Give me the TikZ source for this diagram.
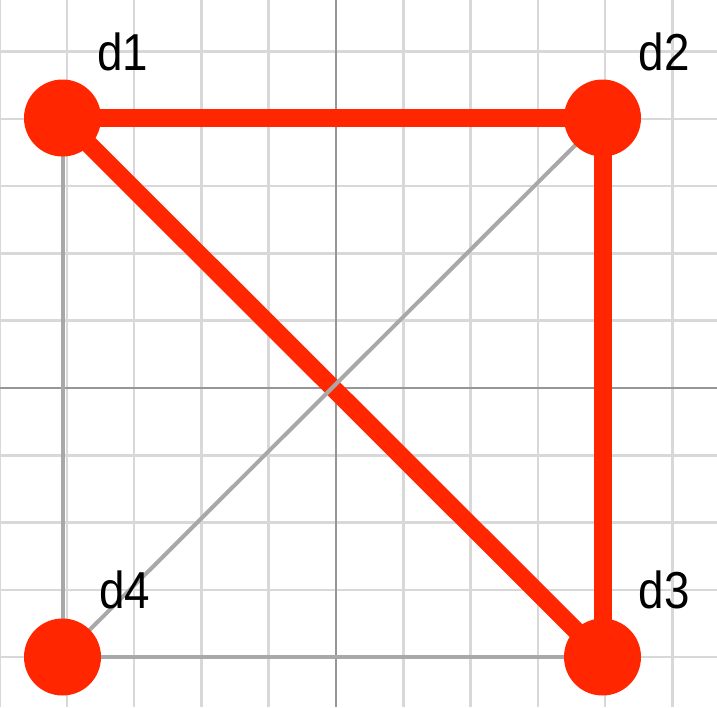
\documentclass[tikz,border=0pt]{standalone}
\usepackage{fontspec}
\setmainfont{Liberation Sans}
\newfontfamily\lblfont[FakeStretch=0.88]{Liberation Sans}
\pgfdeclarelayer{bg}
\pgfsetlayers{bg,main}
\definecolor{dred}{RGB}{255,38,0}
\definecolor{gridc}{RGB}{216,216,216}
\definecolor{axisc}{RGB}{150,150,150}
\definecolor{edgec}{RGB}{168,168,168}
\begin{document}
\begin{tikzpicture}[x=1pt,y=-1pt,
  dot/.style={circle,fill=dred,draw=none,minimum size=77pt,inner sep=0pt},
  lbl/.style={font=\lblfont\fontsize{52}{52}\selectfont,anchor=base,inner sep=0pt},
  gridline/.style={draw=gridc,line width=2.5pt},
  axisline/.style={draw=axisc,line width=2.5pt},
  redge/.style={draw=dred,line width=18pt},
  gedge/.style={draw=edgec,line width=4pt}]
\useasboundingbox (0,0) rectangle (717,707);
\node[dot] (d1) at (62.5,118) {};
\node[dot] (d2) at (602.5,118) {};
\node[dot] (d3) at (602.5,657) {};
\node[dot] (d4) at (62.5,657) {};
\node[lbl] (t1) at (123,70) {d1};
\node[lbl] (t2) at (664,70) {d2};
\node[lbl] (t3) at (664,608) {d3};
\node[lbl] (t4) at (125,608) {d4};
\begin{pgfonlayer}{bg}
  \fill[white] (0,0) rectangle (717,707);
  \begin{scope}
    \clip (0,0) rectangle (717,707);
    \foreach \k in {-5,...,5} {
      \draw[gridline] ({336+67.3*\k},0) -- ({336+67.3*\k},707);
    }
    \foreach \k in {-5,...,5} {
      \draw[gridline] (0,{388+67.3*\k}) -- (717,{388+67.3*\k});
    }
    \draw[axisline] (336,0) -- (336,707);
    \draw[axisline] (0,388) -- (717,388);
  \end{scope}
  \draw[gedge] (d1.center) -- (d4.center);
  \draw[gedge] (d4.center) -- (d3.center);
  \draw[redge] (d1.center) -- (d2.center);
  \draw[redge] (d2.center) -- (d3.center);
  \draw[redge] (d1.center) -- (d3.center);
  \draw[gedge] (d2.center) -- (d4.center);
\end{pgfonlayer}
\end{tikzpicture}
\end{document}
